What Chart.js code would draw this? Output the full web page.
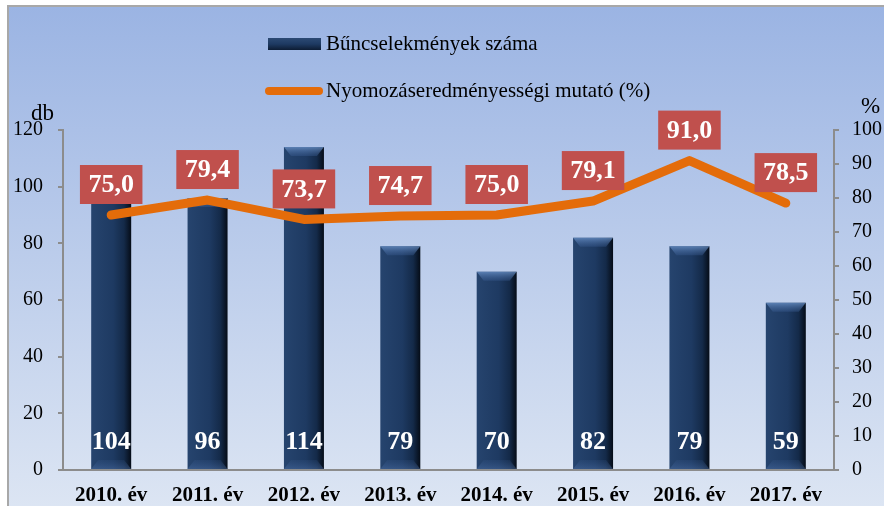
<!DOCTYPE html>
<html>
<head>
<meta charset="utf-8">
<script src="https://cdn.jsdelivr.net/npm/chart.js@4.4.1/dist/chart.umd.min.js"></script>
<style>
  html, body { margin: 0; padding: 0; background: #fff; }
  #wrap { position: relative; width: 884px; height: 506px; overflow: hidden; }
  #frame {
    position: absolute; left: 7px; top: 5px; right: 0; bottom: 0;
    border-left: 2px solid #a8a8a8; border-top: 2px solid #a8a8a8;
    background: linear-gradient(#9bb4e3, #dce5f3);
  }
  canvas { position: absolute; left: 0; top: 0; }
</style>
</head>
<body>
<div id="wrap">
  <div id="frame"></div>
  <canvas id="chart" width="884" height="506"></canvas>
</div>
<script>
const years = ['2010. év', '2011. év', '2012. év', '2013. év', '2014. év', '2015. év', '2016. év', '2017. év'];
const crimes = [104, 96, 114, 79, 70, 82, 79, 59];
const rate = [75.0, 79.4, 73.7, 74.7, 75.0, 79.1, 91.0, 78.5];
const crimeTicks = { min: 0, max: 120, step: 20 };
const rateTicks = { min: 0, max: 100, step: 10 };

const SERIF = '"Liberation Serif", "Times New Roman", serif';
const BAR_PCT = 0.415;
const NAVY = '#1e3a62';
const ORANGE = '#e46c0a';

function barFill(c) {
  const ch = c.chart;
  const xs = ch.scales.x;
  if (!xs || !ch.chartArea) return NAVY;
  const cx = xs.getPixelForValue(c.dataIndex);
  const w = xs.width / years.length * BAR_PCT;
  const g = ch.ctx.createLinearGradient(cx - w / 2, 0, cx + w / 2, 0);
  g.addColorStop(0, '#26446e');
  g.addColorStop(0.55, '#1e3a62');
  g.addColorStop(0.82, '#142a49');
  g.addColorStop(1, '#050c17');
  return g;
}

// bevel, value labels, legend and axis units
const decor = {
  id: 'decor',
  beforeDatasetDraw(chart, args) {
    if (args.index !== 0) return;
    // bar bevels go under the line
    const ctx = chart.ctx;
    const barMeta = chart.getDatasetMeta(1);
    ctx.save();
    barMeta.data.forEach(bar => {
      const l = bar.x - bar.width / 2, r = bar.x + bar.width / 2;
      const g = ctx.createLinearGradient(0, bar.y, 0, bar.y + 9);
      g.addColorStop(0, 'rgba(110,150,205,0.75)');
      g.addColorStop(1, 'rgba(60,95,150,0.35)');
      ctx.fillStyle = g;
      ctx.beginPath();
      ctx.moveTo(l, bar.y);
      ctx.lineTo(r, bar.y);
      ctx.lineTo(r - 7, bar.y + 9);
      ctx.lineTo(l + 7, bar.y + 9);
      ctx.closePath();
      ctx.fill();
      const b = ctx.createLinearGradient(0, bar.base - 9, 0, bar.base);
      b.addColorStop(0, 'rgba(60,95,150,0.15)');
      b.addColorStop(1, 'rgba(80,115,170,0.45)');
      ctx.fillStyle = b;
      ctx.beginPath();
      ctx.moveTo(l + 7, bar.base - 9);
      ctx.lineTo(r - 7, bar.base - 9);
      ctx.lineTo(r, bar.base);
      ctx.lineTo(l, bar.base);
      ctx.closePath();
      ctx.fill();
    });
    ctx.restore();
  },
  afterDatasetsDraw(chart) {
    const ctx = chart.ctx;
    const lineMeta = chart.getDatasetMeta(0);
    const barMeta = chart.getDatasetMeta(1);
    ctx.save();
    ctx.textAlign = 'center';
    ctx.textBaseline = 'middle';
    ctx.font = 'bold 26px ' + SERIF;

    // bar values near the base
    barMeta.data.forEach((bar, i) => {
      ctx.fillStyle = '#fff';
      ctx.fillText(String(crimes[i]), bar.x, bar.base - 27);
    });

    // red boxes above the line points
    lineMeta.data.forEach((pt, i) => {
      const txt = rate[i].toFixed(1).replace('.', ',');
      const w = ctx.measureText(txt).width + 17;
      const h = 39;
      const bottom = pt.y - 11;
      ctx.fillStyle = '#c0504d';
      ctx.fillRect(pt.x - w / 2, bottom - h, w, h);
      ctx.fillStyle = '#fff';
      ctx.fillText(txt, pt.x, bottom - h / 2 + 1);
    });
    ctx.restore();
  },
  afterDraw(chart) {
    const ctx = chart.ctx;
    ctx.save();
    // legend
    const g = ctx.createLinearGradient(0, 38, 0, 50);
    g.addColorStop(0, '#2c4a74');
    g.addColorStop(0.5, '#1e3a62');
    g.addColorStop(1, '#0d1c33');
    ctx.fillStyle = g;
    ctx.fillRect(268, 38, 53, 12);
    ctx.strokeStyle = ORANGE;
    ctx.lineWidth = 8;
    ctx.lineCap = 'round';
    ctx.beginPath();
    ctx.moveTo(269, 91);
    ctx.lineTo(319, 91);
    ctx.stroke();

    ctx.fillStyle = '#000';
    ctx.textBaseline = 'middle';
    ctx.textAlign = 'left';
    ctx.font = '21px ' + SERIF;
    ctx.fillText(chart.data.datasets[1].label, 326, 44);
    ctx.fillText(chart.data.datasets[0].label, 326, 91);

    // axis units
    ctx.font = '23px ' + SERIF;
    ctx.fillText('db', 31, 114);
    ctx.fillText('%', 861, 107);
    ctx.restore();
  }
};

new Chart(document.getElementById('chart'), {
  data: {
    labels: years,
    datasets: [
      {
        type: 'line',
        label: 'Nyomozáseredményességi mutató (%)',
        data: rate,
        yAxisID: 'y1',
        borderColor: ORANGE,
        borderWidth: 9,
        borderCapStyle: 'round',
        borderJoinStyle: 'round',
        pointRadius: 0,
        tension: 0,
        order: 1
      },
      {
        type: 'bar',
        label: 'Bűncselekmények száma',
        data: crimes,
        yAxisID: 'y',
        backgroundColor: barFill,
        borderWidth: 0,
        categoryPercentage: 1,
        barPercentage: BAR_PCT,
        order: 2
      }
    ]
  },
  options: {
    responsive: false,
    animation: false,
    layout: { padding: { top: 130 } },
    plugins: {
      legend: { display: false },
      tooltip: { enabled: false }
    },
    scales: {
      x: {
        grid: { drawOnChartArea: false, drawTicks: false },
        border: { color: '#8c8c8c', width: 2 },
        ticks: { color: '#000', font: { family: SERIF, size: 21, weight: 'bold' }, padding: 13, maxRotation: 0 },
        afterFit: s => { s.height = 36; }
      },
      y: {
        position: 'left',
        min: crimeTicks.min,
        max: crimeTicks.max,
        grid: { drawOnChartArea: false, tickLength: 5, color: '#8c8c8c', lineWidth: 2 },
        border: { color: '#8c8c8c', width: 2 },
        ticks: { stepSize: crimeTicks.step, color: '#000', font: { family: SERIF, size: 20 }, padding: 15 },
        afterFit: s => { s.width = 63; }
      },
      y1: {
        position: 'right',
        min: rateTicks.min,
        max: rateTicks.max,
        grid: { drawOnChartArea: false, tickLength: 5, color: '#8c8c8c', lineWidth: 2 },
        border: { color: '#8c8c8c', width: 2 },
        ticks: { stepSize: rateTicks.step, color: '#000', font: { family: SERIF, size: 20 }, padding: 13 },
        afterFit: s => { s.width = 50; }
      }
    }
  },
  plugins: [decor]
});
</script>
</body>
</html>
